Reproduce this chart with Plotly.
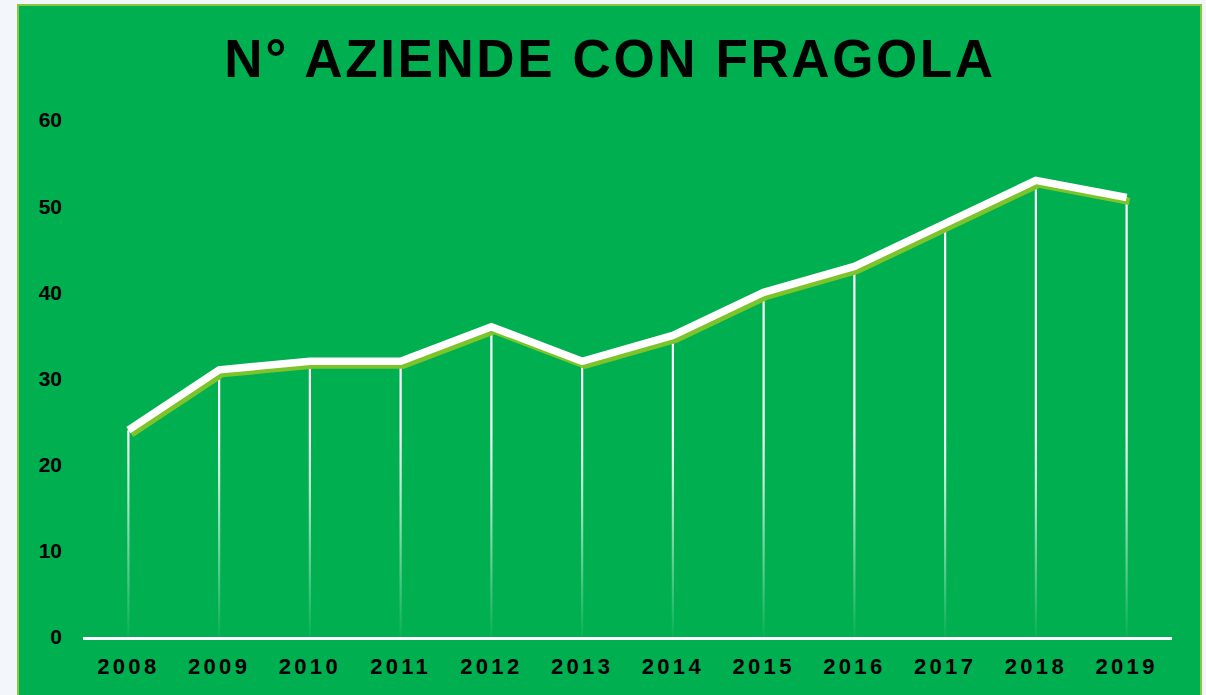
import plotly.graph_objects as go

years = ["2008", "2009", "2010", "2011", "2012", "2013", "2014", "2015", "2016", "2017", "2018", "2019"]
aziende = [24, 31, 32, 32, 36, 32, 35, 40, 43, 48, 53, 51]
y_ticks = [0, 10, 20, 30, 40, 50, 60]
title_text = "N° AZIENDE CON FRAGOLA"

W, H = 1206, 695
L, R, T, B = 83, 34, 120, 58
PW, PH = W - L - R, H - T - B

GREEN = "#00AF50"
SHADOW = "#7DC42A"
FONT = "Liberation Sans, Arial, sans-serif"

xs = list(range(len(years)))
step_px = PW / len(years)

fig = go.Figure()

# drop lines, fading towards the baseline (thin gradient-filled bands)
hw = 1.1 / step_px
for x, v in zip(xs, aziende):
    fig.add_trace(go.Scatter(
        x=[x - hw, x + hw, x + hw, x - hw, x - hw],
        y=[0, 0, v, v, 0],
        mode="lines", fill="toself", line=dict(width=0, color="rgba(0,0,0,0)"),
        fillgradient=dict(type="vertical", start=0, stop=24,
                          colorscale=[[0, "rgba(255,255,255,0.03)"], [1, "rgba(255,255,255,1)"]]),
        hoverinfo="skip", showlegend=False))

# shadow of the main line
dx = 3.0 / step_px
dy = 4.0 / (PH / 60.0)
fig.add_trace(go.Scatter(x=[x + dx for x in xs], y=[v - dy for v in aziende], mode="lines",
                         line=dict(color=SHADOW, width=7), hoverinfo="skip", showlegend=False))
# main line
fig.add_trace(go.Scatter(x=xs, y=aziende, mode="lines",
                         line=dict(color="white", width=7.5), showlegend=False, name="N° aziende"))

x0p = (18 - L) / PW
x1p = (1201 - L) / PW
y1p = (H - B - 5) / PH
y0p = (H - B - 702) / PH
fig.add_shape(type="rect", xref="paper", yref="paper", x0=x0p, x1=x1p, y0=y0p, y1=y1p,
              fillcolor=GREEN, line=dict(color="#8CC63F", width=2), layer="below")

fig.update_layout(
    width=W, height=H,
    margin=dict(l=L, r=R, t=T, b=B),
    paper_bgcolor="#F3F7FB",
    plot_bgcolor="rgba(0,0,0,0)",
    title=dict(text=title_text, x=(610 - L) / PW, xref="paper", xanchor="center",
               y=(H - 58) / H, yanchor="middle",
               font=dict(family=FONT, size=53, color="black", weight="bold")),
    xaxis=dict(range=[-0.5, len(years) - 0.5], tickvals=xs, ticktext=years,
               showgrid=False, zeroline=False, showline=True, linecolor="white", linewidth=3,
               ticks="", ticklabelstandoff=8,
               tickfont=dict(family=FONT, size=22, color="black", weight="bold")),
    yaxis=dict(range=[0, 60], tickvals=y_ticks, showgrid=False, zeroline=False, showline=False,
               ticks="", ticklabelstandoff=20,
               tickfont=dict(family=FONT, size=21, color="black", weight="bold")),
)

post = """
document.body.style.margin='0';
document.body.style.background='#F3F7FB';
var st=document.createElement('style');
st.textContent='.gtitle{letter-spacing:2.6px}.xtick text{letter-spacing:3.3px}';
document.head.appendChild(st);
"""

fig.write_html("out.html", post_script=post, config={"displayModeBar": False})
